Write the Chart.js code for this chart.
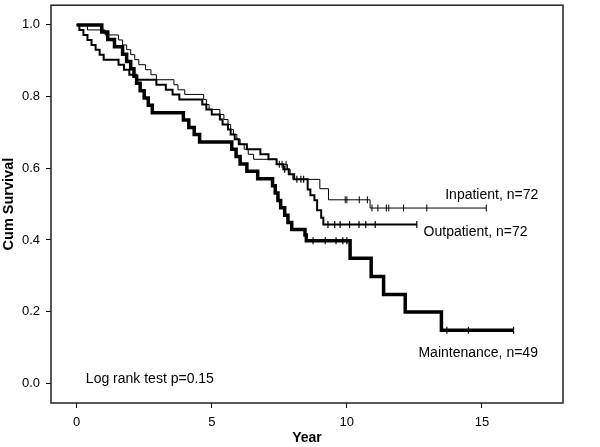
<!DOCTYPE html>
<html>
<head>
    <title>Cum Survival by Treatment Setting</title>
    <script src="https://cdn.jsdelivr.net/npm/chart.js"></script>
    <style>
        body { margin: 0; background: #fff; }
        #wrap { width: 600px; height: 447px; }
    </style>
</head>
<body>
    <div id="wrap"><canvas id="kmChart" width="600" height="447"></canvas></div>

    <script>
        // Kaplan-Meier steps: time (years) and survival after each drop
        const inpatientTimes = [0, 0.4, 1.05, 1.55, 1.7, 1.85, 2.0, 2.15, 2.3, 2.55, 2.75, 2.95, 3.6, 3.75, 4.0, 4.7, 4.8, 4.9, 5.3, 5.45, 5.6, 5.7, 5.8, 5.93, 6.05, 6.2, 6.35, 6.55, 7.4, 7.8, 7.9, 8.0, 9.0, 9.32, 10.86, 15.16];
        const inpatientSurv = [1, 0.986, 0.972, 0.958, 0.944, 0.931, 0.917, 0.903, 0.889, 0.875, 0.861, 0.847, 0.833, 0.819, 0.806, 0.792, 0.778, 0.764, 0.75, 0.736, 0.722, 0.708, 0.694, 0.681, 0.667, 0.653, 0.639, 0.625, 0.611, 0.597, 0.583, 0.569, 0.543, 0.512, 0.489, 0.489];

        const outpatientTimes = [0, 0.1, 0.25, 0.4, 0.55, 0.7, 0.85, 1.0, 1.55, 1.75, 1.95, 2.2, 2.95, 3.3, 3.55, 3.8, 4.65, 4.8, 5.0, 5.3, 5.4, 5.6, 5.7, 5.85, 6.0, 6.3, 6.8, 7.1, 7.4, 7.65, 7.85, 8.05, 8.55, 8.65, 8.8, 8.9, 9.05, 9.13, 12.59];
        const outpatientSurv = [1, 0.986, 0.972, 0.958, 0.944, 0.931, 0.917, 0.903, 0.889, 0.875, 0.861, 0.847, 0.833, 0.819, 0.806, 0.792, 0.778, 0.764, 0.75, 0.736, 0.722, 0.708, 0.694, 0.681, 0.667, 0.653, 0.639, 0.625, 0.611, 0.597, 0.583, 0.569, 0.541, 0.525, 0.511, 0.483, 0.462, 0.443, 0.443];

        const maintenanceTimes = [0, 0.93, 1.15, 1.4, 1.7, 1.85, 2.0, 2.12, 2.22, 2.35, 2.5, 2.65, 2.8, 3.95, 4.15, 4.35, 4.55, 5.74, 5.9, 6.05, 6.3, 6.7, 7.25, 7.35, 7.45, 7.55, 7.7, 7.82, 7.96, 8.45, 8.5, 10.12, 10.9, 11.36, 12.16, 13.5, 16.17];
        const maintenanceSurv = [1, 0.98, 0.959, 0.939, 0.918, 0.898, 0.878, 0.857, 0.837, 0.816, 0.796, 0.776, 0.755, 0.735, 0.714, 0.694, 0.673, 0.653, 0.633, 0.612, 0.592, 0.571, 0.551, 0.531, 0.51, 0.49, 0.469, 0.449, 0.429, 0.414, 0.398, 0.349, 0.298, 0.248, 0.199, 0.148, 0.148];

        // censored cases (tick marks)
        const inpatientCensT = [7.5, 7.6, 7.75, 9.94, 10.0, 10.46, 10.76, 10.93, 11.15, 11.46, 11.55, 12.1, 12.96, 15.16];
        const inpatientCensS = [0.611, 0.611, 0.611, 0.512, 0.512, 0.512, 0.512, 0.489, 0.489, 0.489, 0.489, 0.489, 0.489, 0.489];
        const outpatientCensT = [7.7, 8.15, 8.3, 8.4, 9.3, 9.55, 9.75, 10.1, 10.45, 10.7, 11.05, 12.59];
        const outpatientCensS = [0.597, 0.569, 0.569, 0.569, 0.443, 0.443, 0.443, 0.443, 0.443, 0.443, 0.443, 0.443];
        const maintenanceCensT = [8.75, 9.2, 9.6, 9.85, 10.0, 13.7, 14.5, 16.17];
        const maintenanceCensS = [0.398, 0.398, 0.398, 0.398, 0.398, 0.148, 0.148, 0.148];

        const xTicks = [0, 5, 10, 15];
        const yTicks = [0, 0.2, 0.4, 0.6, 0.8, 1.0];

        const groupLabels = ['Inpatient, n=72', 'Outpatient, n=72', 'Maintenance, n=49'];
        const noteText = 'Log rank test p=0.15';

        function toPoints(xs, ys) {
            return xs.map((x, i) => ({ x: x, y: ys[i] }));
        }

        function stepSet(label, xs, ys, width) {
            return {
                label: label,
                data: toPoints(xs, ys),
                borderColor: '#000',
                borderWidth: width,
                stepped: 'before',
                pointRadius: 0,
                fill: false
            };
        }

        function censSet(xs, ys, width) {
            return {
                data: toPoints(xs, ys),
                showLine: false,
                pointStyle: 'line',
                rotation: 90,
                pointRadius: 3.5,
                pointBorderWidth: width,
                pointBorderColor: '#000',
                borderColor: '#000'
            };
        }

        const FONT = '"Liberation Sans", Arial, Helvetica, sans-serif';

        // box around the plot plus the text labels inside it
        const boxAndText = {
            id: 'boxAndText',
            afterDraw(chart) {
                const { ctx, chartArea: a, scales: { x, y } } = chart;
                ctx.save();
                ctx.strokeStyle = '#222';
                ctx.lineWidth = 1.5;
                ctx.strokeRect(a.left, a.top, a.right - a.left, a.bottom - a.top);

                ctx.fillStyle = '#000';
                ctx.font = '14px ' + FONT;
                ctx.textBaseline = 'middle';
                ctx.textAlign = 'left';
                const spots = [[13.64, 0.526], [12.84, 0.423], [12.65, 0.084]];
                groupLabels.forEach((t, i) => {
                    ctx.fillText(t, x.getPixelForValue(spots[i][0]), y.getPixelForValue(spots[i][1]));
                });
                ctx.fillText(noteText, x.getPixelForValue(0.34), y.getPixelForValue(0.012));
                ctx.restore();
            }
        };

        const ctx = document.getElementById('kmChart').getContext('2d');
        new Chart(ctx, {
            type: 'line',
            data: {
                datasets: [
                    stepSet(groupLabels[0], inpatientTimes, inpatientSurv, 1),
                    stepSet(groupLabels[1], outpatientTimes, outpatientSurv, 2),
                    stepSet(groupLabels[2], maintenanceTimes, maintenanceSurv, 3.5),
                    censSet(inpatientCensT, inpatientCensS, 1),
                    censSet(outpatientCensT, outpatientCensS, 1.2),
                    censSet(maintenanceCensT, maintenanceCensS, 1.2)
                ]
            },
            options: {
                responsive: false,
                animation: false,
                devicePixelRatio: 1,
                layout: { padding: { top: 2, right: 37, left: 0, bottom: 0 } },
                plugins: {
                    legend: { display: false },
                    tooltip: { enabled: false }
                },
                scales: {
                    x: {
                        type: 'linear',
                        min: -0.95,
                        max: 18,
                        afterBuildTicks: s => { s.ticks = xTicks.map(v => ({ value: v })); },
                        afterFit: s => { s.height = 44; s.paddingLeft = 0; s.paddingRight = 0; },
                        grid: { drawOnChartArea: false, drawTicks: true, tickLength: 5, color: '#000' },
                        border: { display: false },
                        ticks: {
                            color: '#000',
                            padding: 7,
                            maxRotation: 0,
                            font: { family: FONT, size: 13 },
                            callback: v => String(v)
                        },
                        title: {
                            display: true,
                            text: 'Year',
                            color: '#000',
                            padding: { top: 0, bottom: 0 },
                            font: { family: FONT, size: 14, weight: 'bold' }
                        }
                    },
                    y: {
                        type: 'linear',
                        min: -0.055,
                        max: 1.055,
                        afterBuildTicks: s => { s.ticks = yTicks.map(v => ({ value: v })); },
                        afterFit: s => { s.width = 51; s.paddingTop = 0; s.paddingBottom = 0; },
                        grid: { drawOnChartArea: false, drawTicks: true, tickLength: 5, color: '#000' },
                        border: { display: false },
                        ticks: {
                            color: '#000',
                            padding: 6,
                            font: { family: FONT, size: 13 },
                            callback: v => v.toFixed(1)
                        },
                        title: {
                            display: true,
                            text: 'Cum Survival',
                            color: '#000',
                            padding: { top: 0, bottom: 0 },
                            font: { family: FONT, size: 14.5, weight: 'bold' }
                        }
                    }
                }
            },
            plugins: [boxAndText]
        });
    </script>
</body>
</html>
